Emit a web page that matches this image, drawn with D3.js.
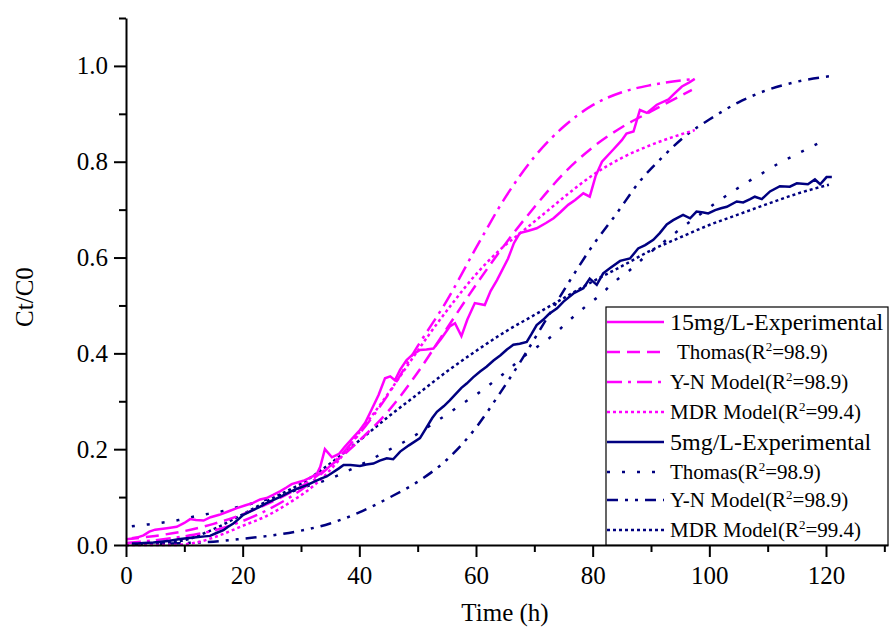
<!DOCTYPE html>
<html>
<head>
<meta charset="utf-8">
<script src="https://cdn.jsdelivr.net/npm/d3@7/dist/d3.min.js"></script>
<style>
  body { margin: 0; background: #fff; }
  svg { display: block; font-family: "Liberation Serif", "Times New Roman", serif; }
  .axis path, .axis line { stroke: #000; stroke-width: 2; }
  .axis text { font-family: "Liberation Serif", serif; font-size: 25px; fill: #000; }
</style>
</head>
<body>
<figure id="chart" style="margin:0"></figure>
<script>
// values: [time (h), Ct/C0]
const exp15 = [[1,0.014],[2,0.016],[3,0.02],[4,0.028],[5,0.032],[7,0.035],[8.7,0.038],[10,0.046],[11,0.054],[12,0.052],[13.3,0.051],[14.5,0.058],[16,0.063],[17.5,0.07],[19,0.077],[20.5,0.083],[21.8,0.088],[23,0.095],[24.1,0.098],[25.3,0.105],[26.4,0.112],[27.5,0.12],[28.4,0.127],[29.5,0.131],[30.4,0.134],[31.5,0.14],[32.7,0.148],[33.3,0.163],[34.1,0.2],[35.3,0.183],[36.5,0.19],[37.5,0.205],[39,0.225],[40.1,0.24],[41,0.255],[41.8,0.275],[43.3,0.313],[44.4,0.348],[45.3,0.352],[46.1,0.344],[47,0.366],[48.1,0.386],[49.2,0.398],[50.4,0.407],[51.5,0.408],[52.7,0.41],[54,0.43],[55.5,0.456],[56.4,0.463],[57.5,0.436],[58.5,0.47],[59.8,0.505],[61.5,0.501],[62.5,0.53],[63.6,0.553],[65.5,0.598],[66.5,0.63],[67.5,0.651],[69,0.656],[70.4,0.661],[72,0.672],[73.3,0.682],[74.5,0.695],[75.8,0.71],[77,0.72],[78.4,0.734],[79.5,0.727],[80.5,0.77],[81.6,0.8],[83.5,0.825],[85,0.845],[85.8,0.859],[87,0.863],[88.1,0.908],[89.3,0.902],[91,0.919],[93,0.93],[94,0.942],[95.3,0.957],[96.5,0.965],[97.5,0.973]];
const thomas15 = [[0,0.012],[5,0.019],[10,0.029],[15,0.044],[20,0.064],[25,0.09],[30,0.122],[35,0.165],[40,0.218],[45,0.28],[50,0.36],[55,0.452],[60,0.543],[65,0.628],[70,0.705],[75,0.775],[80,0.83],[85,0.872],[90,0.905],[97,0.95]];
const yn15 = [[0,0.004],[5,0.01],[10,0.018],[15,0.03],[20,0.05],[25,0.078],[30,0.115],[35,0.165],[40,0.232],[45,0.315],[50,0.415],[55,0.51],[60,0.62],[65,0.725],[70,0.81],[75,0.873],[80,0.918],[85,0.945],[90,0.96],[97.5,0.973]];
const mdr15 = [[0,0],[8,0],[12,0.005],[16,0.02],[20,0.04],[24,0.06],[28,0.088],[32,0.122],[36,0.17],[40,0.235],[44,0.3],[48,0.37],[52,0.44],[56,0.505],[60,0.565],[64,0.615],[68,0.655],[72,0.695],[76,0.735],[80,0.772],[85,0.808],[90,0.835],[97.5,0.866]];

const exp5 = [[1,0.003],[2,0.003],[3,0.004],[4.7,0.005],[6,0.007],[7.5,0.009],[9,0.012],[10.4,0.014],[12,0.016],[13.5,0.018],[14.4,0.019],[15.5,0.025],[16.7,0.031],[17.5,0.038],[18.4,0.045],[19.3,0.054],[20.1,0.063],[21.5,0.071],[23,0.08],[24,0.087],[25.3,0.094],[26.7,0.102],[28.1,0.111],[29.5,0.118],[31,0.125],[32.2,0.132],[33.3,0.138],[34.4,0.143],[35.5,0.152],[36.5,0.16],[37.3,0.167],[38.5,0.167],[40.1,0.165],[41.2,0.168],[42.4,0.17],[43.5,0.176],[44.7,0.181],[45.8,0.179],[47,0.195],[48.5,0.208],[50.4,0.223],[51.5,0.245],[52.5,0.265],[53.3,0.278],[54.5,0.29],[55.5,0.302],[56.5,0.315],[57.5,0.328],[58.4,0.337],[59.5,0.35],[60.7,0.362],[61.8,0.372],[63,0.385],[64.2,0.396],[65.3,0.408],[66.4,0.418],[67.5,0.42],[68.7,0.424],[69.5,0.44],[70.4,0.459],[71.5,0.47],[72.5,0.482],[73.9,0.494],[75,0.508],[76.7,0.525],[78.4,0.536],[79.5,0.556],[80.7,0.543],[81.8,0.567],[83,0.578],[84.7,0.593],[86.4,0.598],[87.8,0.619],[89,0.626],[90.4,0.637],[91.5,0.651],[92.7,0.669],[93.8,0.678],[95.5,0.689],[96.7,0.682],[97.8,0.696],[99,0.694],[99.8,0.692],[101,0.699],[102,0.703],[103,0.706],[104.7,0.717],[105.8,0.715],[107,0.722],[107.8,0.727],[109,0.722],[110.4,0.738],[112.1,0.749],[113.8,0.748],[115,0.755],[116.9,0.753],[118.1,0.763],[119,0.753],[120.1,0.768],[121,0.768]];
const thomas5 = [[1,0.039],[3.8,0.043],[6.4,0.047],[9,0.052],[11.5,0.059],[14.1,0.065],[16.7,0.071],[19.3,0.08],[21.8,0.087],[24.1,0.095],[26.5,0.104],[29.3,0.115],[32.1,0.127],[34.7,0.137],[37.3,0.151],[39.8,0.165],[42.4,0.181],[45,0.198],[47.5,0.214],[50.1,0.233],[52.7,0.254],[55.3,0.275],[57.8,0.296],[60.4,0.317],[63,0.341],[65.5,0.365],[68.1,0.393],[71,0.418],[73.6,0.442],[76.1,0.47],[78.7,0.497],[81.3,0.522],[83.8,0.55],[86.4,0.574],[89,0.602],[91.5,0.626],[94.1,0.651],[96.7,0.675],[99.3,0.698],[101.8,0.72],[104.4,0.741],[107,0.761],[109.5,0.779],[112.1,0.798],[114.7,0.814],[117.3,0.83],[120.1,0.847]];
const yn5 = [[1,0.001],[5,0.002],[10,0.004],[15,0.007],[20,0.013],[25,0.02],[30,0.03],[35,0.045],[40,0.068],[45,0.098],[50,0.132],[55,0.178],[60,0.245],[64,0.315],[68,0.39],[72,0.47],[76,0.55],[80,0.625],[84,0.69],[88,0.758],[92,0.81],[96,0.855],[100,0.888],[105,0.924],[110,0.95],[115,0.967],[121,0.979]];
const mdr5 = [[0,0],[5,0.003],[10,0.01],[15,0.033],[20,0.064],[25,0.097],[30,0.128],[35,0.17],[40,0.218],[45,0.268],[50,0.315],[55,0.362],[60,0.405],[65,0.445],[70,0.48],[75,0.515],[80,0.55],[85,0.582],[90,0.615],[95,0.642],[100,0.668],[105,0.69],[110,0.712],[115,0.733],[120.5,0.752]];

const xMajor = [0, 20, 40, 60, 80, 100, 120];
const xMinor = [10, 30, 50, 70, 90, 110, 130];
const yMajor = [0, 0.2, 0.4, 0.6, 0.8, 1.0];
const yMinor = [0.1, 0.3, 0.5, 0.7, 0.9, 1.1];

const legendLabels = ["15mg/L-Experimental", "Thomas", "Y-N Model", "MDR Model", "5mg/L-Experimental", "Thomas", "Y-N Model", "MDR Model"];
const legendR2 = [null, "98.9", "98.9", "99.4", null, "98.9", "98.9", "99.4"];

const pink = "#ff00ff", navy = "#000080";

let dimensions = {
    width: 890,
    height: 630,
    margin: { top: 18, right: 2, bottom: 85, left: 126 },
};
dimensions.boundedWidth = dimensions.width - dimensions.margin.left - dimensions.margin.right;
dimensions.boundedHeight = dimensions.height - dimensions.margin.top - dimensions.margin.bottom;

const svg = d3.select("figure#chart")
    .append("svg")
    .attr("width", dimensions.width)
    .attr("height", dimensions.height);

const g = svg.append("g")
    .attr("transform", `translate(${dimensions.margin.left}, ${dimensions.margin.top})`);

const xScale = d3.scaleLinear()
    .domain([0, 120 * dimensions.boundedWidth / 700])
    .range([0, dimensions.boundedWidth]);

const yScale = d3.scaleLinear()
    .domain([0, 1.1])
    .range([dimensions.boundedHeight, 0]);

// series: data, colour, dash, curve
const series = [
    { data: mdr5,     color: navy, dash: "3,3",              curve: d3.curveMonotoneX },
    { data: yn5,      color: navy, dash: "11,7,3,7,3,7",     curve: d3.curveMonotoneX },
    { data: thomas5,  color: navy, dash: "3,12",             curve: d3.curveMonotoneX },
    { data: mdr15,    color: pink, dash: "3,3",              curve: d3.curveMonotoneX },
    { data: yn15,     color: pink, dash: "15,6,3,6",         curve: d3.curveMonotoneX },
    { data: thomas15, color: pink, dash: "13,7",             curve: d3.curveMonotoneX },
    { data: exp5,     color: navy, dash: null,               curve: d3.curveLinear },
    { data: exp15,    color: pink, dash: null,               curve: d3.curveLinear },
];

const line = d3.line()
    .x(d => xScale(d[0]))
    .y(d => yScale(d[1]));

g.selectAll("path.series")
    .data(series)
    .enter()
    .append("path")
    .attr("class", "series")
    .attr("d", d => line.curve(d.curve)(d.data))
    .attr("fill", "none")
    .attr("stroke", d => d.color)
    .attr("stroke-width", 2.5)
    .attr("stroke-dasharray", d => d.dash);

// legend box
const lg = svg.append("g").attr("transform", "translate(606, 307)");
lg.append("rect")
    .attr("width", 282)
    .attr("height", 238)
    .attr("fill", "#fff")
    .attr("stroke", "#000")
    .attr("stroke-width", 1.2);

const legendStyle = [series[7], series[5], series[4], series[3], series[6], series[2], series[1], series[0]];
const rowY = [15, 45, 75, 105, 135, 165, 193, 223];

legendLabels.forEach((label, i) => {
    const s = legendStyle[i];
    lg.append("line")
        .attr("x1", 1).attr("x2", 58)
        .attr("y1", rowY[i]).attr("y2", rowY[i])
        .attr("stroke", s.color)
        .attr("stroke-width", 2.5)
        .attr("stroke-dasharray", s.dash);
    const big = legendR2[i] === null;
    const t = lg.append("text")
        .attr("x", i === 1 ? 71 : 64)
        .attr("y", rowY[i] + (big ? 8 : 7))
        .attr("font-size", big ? 24 : 21)
        .attr("fill", "#000");
    if (big) {
        t.text(label);
    } else {
        t.append("tspan").text(label + "(R");
        t.append("tspan").attr("dy", -8).attr("font-size", 13).text("2");
        t.append("tspan").attr("dy", 8).text("=" + legendR2[i] + ")");
    }
});

// axes
const xAxis = g.append("g")
    .attr("class", "x axis")
    .attr("transform", `translate(0, ${dimensions.boundedHeight})`)
    .call(d3.axisBottom(xScale).tickValues(xMajor).tickSize(12).tickSizeOuter(0).tickPadding(4));
xAxis.selectAll("text").attr("dy", "0.9em");

g.append("g")
    .attr("class", "x axis minor")
    .attr("transform", `translate(0, ${dimensions.boundedHeight})`)
    .call(d3.axisBottom(xScale).tickValues(xMinor).tickSize(7).tickSizeOuter(0).tickFormat(""))
    .select(".domain").remove();

g.append("g")
    .attr("class", "y axis")
    .call(d3.axisLeft(yScale).tickValues(yMajor).tickSize(12).tickSizeOuter(0).tickPadding(6).tickFormat(d3.format(".1f")));

g.append("g")
    .attr("class", "y axis minor")
    .call(d3.axisLeft(yScale).tickValues(yMinor).tickSize(7).tickSizeOuter(0).tickFormat(""))
    .select(".domain").remove();

// axis titles
svg.append("text")
    .attr("x", 505)
    .attr("y", 621)
    .attr("text-anchor", "middle")
    .attr("font-size", 25)
    .text("Time (h)");

svg.append("text")
    .attr("transform", "translate(33, 297) rotate(-90)")
    .attr("text-anchor", "middle")
    .attr("font-size", 25)
    .text("Ct/C0");
</script>
</body>
</html>
